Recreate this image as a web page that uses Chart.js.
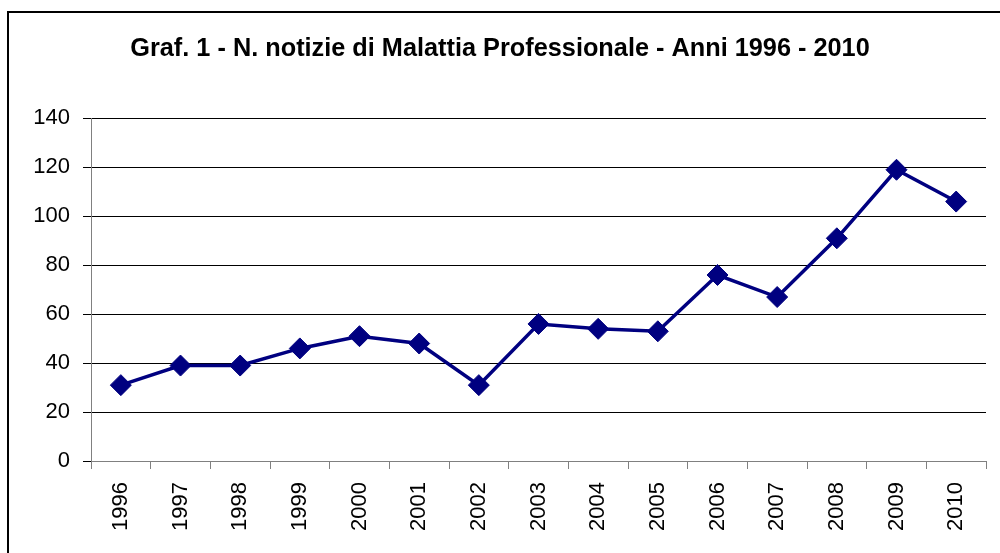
<!DOCTYPE html>
<html>
<head>
<meta charset="utf-8">
<script src="https://cdn.jsdelivr.net/npm/chart.js@4"></script>
<style>
    html, body { margin: 0; padding: 0; background: #fff; }
    #wrap { position: relative; width: 1000px; height: 553px; overflow: hidden; }
    #frame { position: absolute; left: 7px; top: 11px; width: 1100px; height: 700px;
             border-left: 2px solid #000; border-top: 2px solid #000; pointer-events: none; }
    canvas { position: absolute; left: 0; top: 0; }
</style>
</head>
<body>
<div id="wrap">
    <canvas id="mpChart" width="1000" height="553"></canvas>
    <div id="frame"></div>
</div>
<script>
const years = ["1996", "1997", "1998", "1999", "2000", "2001", "2002", "2003",
               "2004", "2005", "2006", "2007", "2008", "2009", "2010"];
const notizie = [31, 39, 39, 46, 51, 48, 31, 56, 54, 53, 76, 67, 91, 119, 106];
const yTicks = { min: 0, max: 140, step: 20 };

const FONT = "'Liberation Sans', Arial, sans-serif";

const ctx = document.getElementById("mpChart").getContext("2d");

let mpChart = new Chart(ctx, {
    type: "line",
    data: {
        labels: years,
        datasets: [{
            label: "N. notizie",
            data: notizie,
            borderColor: "#000080",
            backgroundColor: "#000080",
            borderWidth: 3.5,
            pointStyle: "rectRot",
            pointRadius: 10.5,
            pointBorderWidth: 1,
            pointBackgroundColor: "#000080",
            pointBorderColor: "#000080",
            tension: 0
        }]
    },
    options: {
        responsive: false,
        animation: false,
        layout: { padding: 0 },
        plugins: {
            legend: { display: false },
            tooltip: { enabled: false },
            title: {
                display: true,
                text: "Graf. 1 - N. notizie di Malattia Professionale - Anni 1996 - 2010",
                color: "#000",
                font: { family: FONT, size: 25.3, weight: "bold", lineHeight: 1.2 },
                padding: { top: 34, bottom: 54 }
            }
        },
        scales: {
            x: {
                offset: true,
                grid: { offset: true, drawOnChartArea: false, color: "#808080", tickLength: 8 },
                border: { color: "#808080", width: 1 },
                ticks: {
                    color: "#000",
                    font: { family: FONT, size: 22 },
                    minRotation: 90,
                    maxRotation: 90,
                    padding: 13
                },
                afterFit: s => { s.height = 92; }
            },
            y: {
                min: yTicks.min,
                max: yTicks.max,
                grid: { color: "#000", lineWidth: 1, tickLength: 8 },
                border: { color: "#808080", width: 1 },
                ticks: {
                    stepSize: yTicks.step,
                    color: "#000",
                    font: { family: FONT, size: 22 },
                    padding: 13
                },
                afterFit: s => { s.width = 91; }
            },
            // empty right-hand strip so the plot stops short of the edge
            spacer: {
                position: "right",
                grid: { display: false },
                border: { display: false },
                ticks: { display: false },
                afterFit: s => { s.width = 14; }
            }
        }
    }
});
</script>
</body>
</html>
